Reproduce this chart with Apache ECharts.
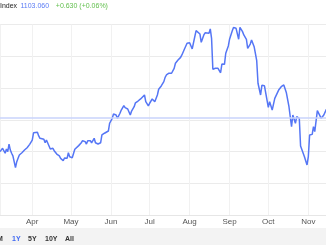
<!DOCTYPE html>
<html>
<head>
<meta charset="utf-8">
<script src="https://cdn.jsdelivr.net/npm/echarts@6/dist/echarts.min.js"></script>
<style>
html,body{margin:0;padding:0;background:#fff;}
#c{width:326px;height:245px;}
</style>
</head>
<body>
<div id="c"></div>
<script>
var dates = [
'2024-03-07','2024-03-09','2024-03-11','2024-03-12','2024-03-13','2024-03-14','2024-03-15','2024-03-16','2024-03-17','2024-03-19',
'2024-03-20','2024-03-21','2024-03-22','2024-03-24','2024-03-26','2024-03-28','2024-03-30','2024-04-01','2024-04-02','2024-04-03',
'2024-04-05','2024-04-06','2024-04-07','2024-04-08','2024-04-10','2024-04-11','2024-04-12','2024-04-13','2024-04-14','2024-04-15',
'2024-04-17','2024-04-18','2024-04-19','2024-04-20','2024-04-22','2024-04-23','2024-04-25','2024-04-26','2024-04-28','2024-04-29',
'2024-04-30','2024-05-02','2024-05-04','2024-05-05','2024-05-07','2024-05-08','2024-05-09','2024-05-10','2024-05-12','2024-05-13',
'2024-05-14','2024-05-16','2024-05-17','2024-05-19','2024-05-20','2024-05-22','2024-05-24','2024-05-25','2024-05-27','2024-05-28',
'2024-05-30','2024-05-31','2024-06-02','2024-06-03','2024-06-05','2024-06-06','2024-06-08','2024-06-09','2024-06-11','2024-06-12',
'2024-06-14','2024-06-15','2024-06-16','2024-06-17','2024-06-19','2024-06-20','2024-06-22','2024-06-24','2024-06-25','2024-06-27',
'2024-06-28','2024-06-30','2024-07-01','2024-07-03','2024-07-04','2024-07-05','2024-07-07','2024-07-08','2024-07-10','2024-07-12',
'2024-07-13','2024-07-14','2024-07-16','2024-07-18','2024-07-19','2024-07-20','2024-07-21','2024-07-23','2024-07-25','2024-07-26',
'2024-07-27','2024-07-28','2024-07-30','2024-07-31','2024-08-01','2024-08-03','2024-08-04','2024-08-06','2024-08-07','2024-08-09',
'2024-08-10','2024-08-12','2024-08-13','2024-08-14','2024-08-16','2024-08-17','2024-08-18','2024-08-19','2024-08-21','2024-08-22',
'2024-08-23','2024-08-25','2024-08-26','2024-08-28','2024-08-29','2024-08-31','2024-09-01','2024-09-03','2024-09-04','2024-09-06',
'2024-09-07','2024-09-08','2024-09-09','2024-09-11','2024-09-12','2024-09-14','2024-09-15','2024-09-16','2024-09-17','2024-09-18',
'2024-09-20','2024-09-22','2024-09-23','2024-09-25','2024-09-26','2024-09-28','2024-09-29','2024-10-01','2024-10-02','2024-10-04',
'2024-10-06','2024-10-09','2024-10-11','2024-10-13','2024-10-15','2024-10-17','2024-10-18','2024-10-19','2024-10-20','2024-10-22',
'2024-10-23','2024-10-25','2024-10-26','2024-10-27','2024-10-29','2024-10-31','2024-11-01','2024-11-02','2024-11-04','2024-11-05',
'2024-11-06','2024-11-08','2024-11-09','2024-11-11','2024-11-12','2024-11-13','2024-11-15'
];
var values = [
1079.9,1082.0,1078.9,1081.6,1079.9,1084.7,1080.9,1078.9,1077.2,1069.8,
1073.6,1075.7,1077.8,1079.2,1080.9,1082.4,1084.5,1087.2,1091.8,1091.5,
1092.1,1089.8,1088.3,1087.2,1087.7,1085.5,1087.2,1086.2,1083.5,1081.6,
1082.0,1080.5,1080.9,1078.4,1077.2,1075.7,1074.2,1075.9,1075.7,1079.2,
1076.7,1076.1,1081.4,1082.4,1083.7,1083.5,1085.5,1086.8,1086.2,1084.7,
1086.8,1086.8,1085.5,1088.3,1085.5,1084.7,1085.5,1090.4,1091.5,1090.4,
1092.9,1097.8,1100.9,1103.6,1103.0,1100.9,1104.1,1106.1,1108.9,1107.6,
1106.8,1107.2,1103.0,1105.5,1108.2,1110.7,1111.8,1113.1,1114.1,1115.6,
1111.4,1108.7,1110.4,1113.1,1114.1,1111.4,1115.6,1119.2,1121.3,1124.0,
1126.7,1128.2,1129.3,1129.3,1129.3,1132.4,1135.6,1137.6,1139.3,1140.8,
1139.7,1144.6,1148.2,1147.1,1148.5,1144.6,1148.5,1156.1,1157.0,1154.0,
1148.8,1153.4,1154.8,1155.5,1154.5,1157.2,1151.3,1131.8,1132.4,1131.3,
1132.4,1129.6,1135.1,1134.9,1141.9,1146.5,1150.9,1155.9,1158.1,1157.6,
1157.0,1150.7,1158.2,1155.5,1153.4,1150.7,1145.0,1144.6,1147.7,1150.2,
1146.0,1137.2,1123.0,1115.6,1121.7,1121.4,1121.9,1107.8,1111.4,1106.1,
1113.5,1118.7,1120.8,1121.9,1117.0,1108.2,1101.9,1095.6,1103.0,1097.8,
1101.9,1100.9,1083.5,1084.1,1076.7,1071.5,1076.7,1090.4,1090.8,1095.6,
1092.5,1105.7,1105.7,1100.9,1100.3,1103.0,1106.6
];
var monthNames = ['Jan','Feb','Mar','Apr','May','Jun','Jul','Aug','Sep','Oct','Nov','Dec'];
var refLevel = 1101.1;
var titleName = 'Index';
var titlePrice = '1103.060';
var titleChange = '+0.630 (+0.06%)';
var rangeButtons = ['6M','1Y','5Y','10Y','All'];

var seriesData = dates.map(function(d,i){ return [d, values[i]]; });
var DAY = 86400000;

var chart = echarts.init(document.getElementById('c'), null, {renderer:'canvas'});
var font = '"Liberation Sans", Arial, Helvetica, sans-serif';

var btnX = [-7, 12, 28, 45, 65];
var graphics = [
  {type:'rect', left:0, top:228, shape:{width:326, height:17}, style:{fill:'#f3f3f3'}, z:0},
  {type:'text', x:0, y:6.5, style:{
      text:'{a|'+titleName+'} {b|'+titlePrice+'}  {c|'+titleChange+'}',
      verticalAlign:'middle',
      rich:{
        a:{fontSize:7, fontFamily:font, fill:'#222222'},
        b:{fontSize:7, fontFamily:font, fill:'#5b7cf5'},
        c:{fontSize:7, fontFamily:font, fill:'#63c04f'}
      }
  }}
];
rangeButtons.forEach(function(t,i){
  graphics.push({type:'text', x:btnX[i], y:239.3, style:{
    text:t, fontSize:7, fontWeight:'bold', fontFamily:font,
    fill: t==='1Y' ? '#3f68f2' : '#333333', verticalAlign:'middle'
  }, z:2});
});

chart.setOption({
  animation:false,
  backgroundColor:'#ffffff',
  grid:{left:0, right:0, top:24.5, bottom:30, containLabel:false},
  xAxis:{
    type:'time',
    min: new Date(2024,2,7).getTime(),
    max: new Date(2024,10,14,17).getTime(),
    splitNumber: 8,
    minInterval: 28*DAY,
    maxInterval: 31*DAY,
    axisLine:{show:true, lineStyle:{color:'#e6e6e6', width:1}},
    axisTick:{show:false},
    splitLine:{show:true, lineStyle:{color:'#f1f1f1', width:1}},
    axisLabel:{
      show:true, color:'#555555', fontSize:8, fontFamily:font, margin:2.5,
      showMinLabel:false, showMaxLabel:false, hideOverlap:false,
      formatter:function(v){ return monthNames[new Date(v).getMonth()]; }
    }
  },
  yAxis:{
    type:'value',
    min:1040, max:1160, interval:20,
    axisLine:{show:false}, axisTick:{show:false}, axisLabel:{show:false},
    splitLine:{show:true, lineStyle:{color:'#ebebeb', width:1}}
  },
  series:[{
    type:'line',
    data: seriesData,
    showSymbol:false,
    symbol:'none',
    lineStyle:{color:'#5576f5', width:1.5},
    markLine:{
      silent:true, symbol:'none', label:{show:false},
      lineStyle:{color:'#c9d3fb', width:1.5, type:'solid'},
      data:[{yAxis: refLevel}]
    }
  }],
  graphic: graphics
});
</script>
</body>
</html>
